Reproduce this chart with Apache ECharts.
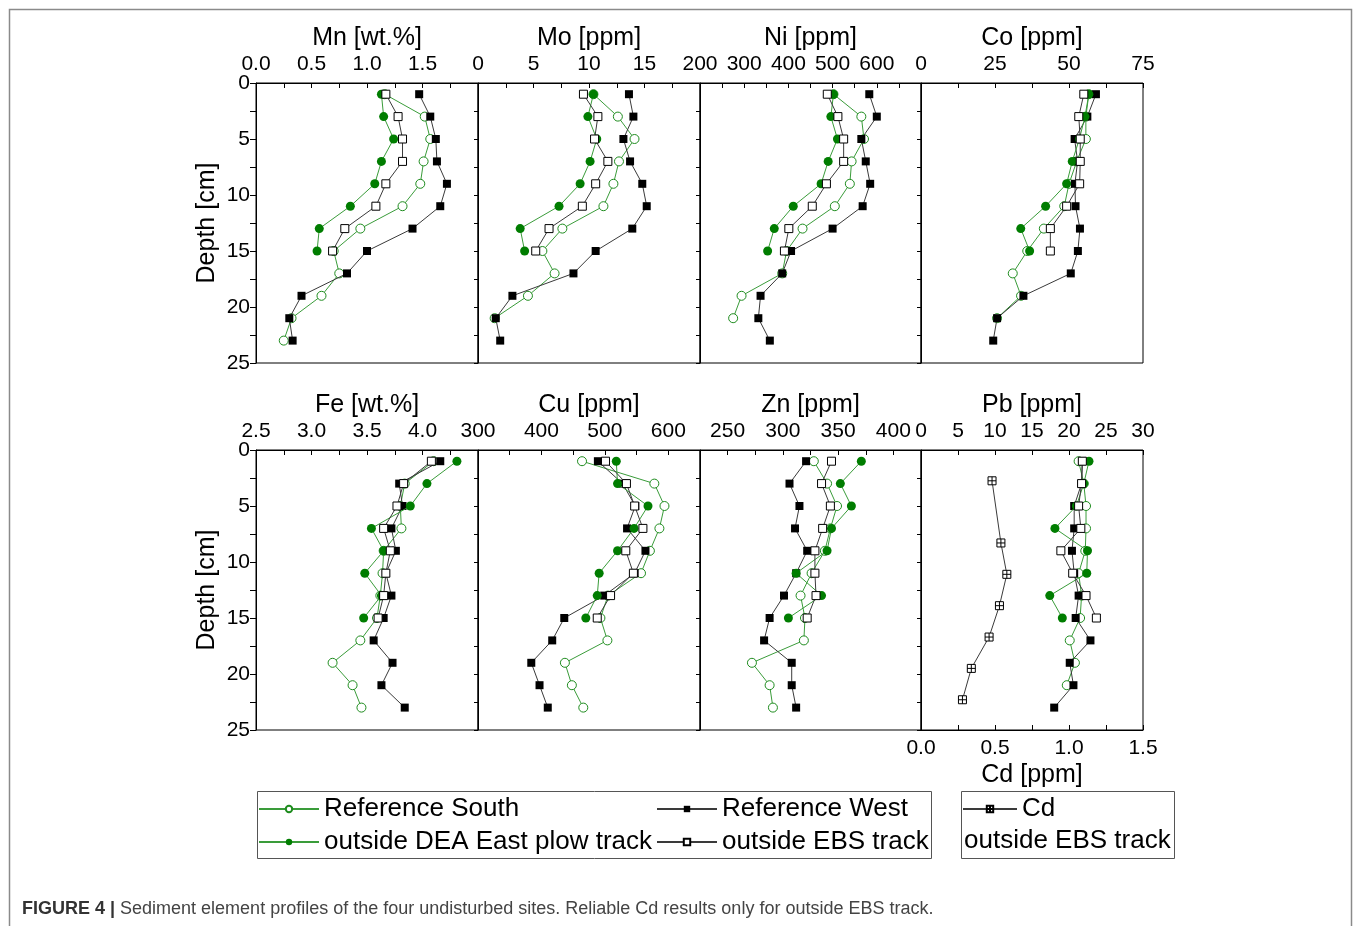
<!DOCTYPE html>
<html><head><meta charset="utf-8">
<script src="https://cdn.jsdelivr.net/npm/echarts@6/dist/echarts.min.js"></script>
<style>html,body{margin:0;padding:0;background:#fff}#c{width:1358px;height:926px}</style>
</head><body><div id="c"></div>
<script>
// ---- data ----
const depths = [1, 3, 5, 7, 9, 11, 13, 15, 17, 19, 21, 23];
const cdDepths = [2.75, 8.3, 11.1, 13.9, 16.7, 19.5, 22.3];

const mnRefSouth = [1.16, 1.52, 1.57, 1.51, 1.48, 1.32, 0.94, 0.70, 0.75, 0.59, 0.32, 0.25];
const mnRefWest  = [1.47, 1.57, 1.62, 1.63, 1.72, 1.66, 1.41, 1.00, 0.82, 0.41, 0.30, 0.33];
const mnDeaEast  = [1.13, 1.15, 1.24, 1.13, 1.07, 0.85, 0.57, 0.55];
const mnEbs      = [1.17, 1.28, 1.32, 1.32, 1.17, 1.08, 0.80, 0.69];

const moRefSouth = [10.4, 12.6, 14.1, 12.7, 12.2, 11.3, 7.6, 5.8, 6.9, 4.5, 1.5];
const moRefWest  = [13.6, 14.0, 13.1, 13.7, 14.8, 15.2, 13.9, 10.6, 8.6, 3.1, 1.6, 2.0];
const moDeaEast  = [10.4, 9.9, 10.7, 10.1, 9.2, 7.3, 3.8, 4.2];
const moEbs      = [9.5, 10.8, 10.5, 11.7, 10.6, 9.4, 6.4, 5.2];

const niRefSouth = [502, 565, 571, 543, 539, 505, 432, 396, 386, 294, 275];
const niRefWest  = [583, 600, 565, 575, 585, 568, 500, 406, 386, 337, 332, 358];
const niDeaEast  = [502, 496, 511, 490, 474, 411, 368, 353];
const niEbs      = [488, 512, 525, 525, 486, 454, 401, 391];

const coRefSouth = [56.7, 55.7, 55.7, 52.6, 50.0, 48.4, 41.5, 35.9, 31.0, 33.8, 25.7];
const coRefWest  = [59.1, 56.2, 51.9, 52.9, 52.0, 52.2, 53.7, 53.0, 50.6, 34.6, 25.7, 24.4];
const coDeaEast  = [56.7, 55.4, 53.5, 51.1, 49.2, 42.1, 33.7, 36.7];
const coEbs      = [55.0, 53.3, 53.8, 53.8, 53.6, 49.2, 43.7, 43.7];

const feRefSouth = [4.10, 3.84, 3.80, 3.81, 3.65, 3.64, 3.62, 3.59, 3.44, 3.19, 3.37, 3.45];
const feRefWest  = [4.16, 3.79, 3.82, 3.72, 3.76, 3.67, 3.72, 3.65, 3.56, 3.73, 3.63, 3.84];
const feDeaEast  = [4.31, 4.04, 3.89, 3.54, 3.65, 3.48, 3.63, 3.47];
const feEbs      = [4.08, 3.83, 3.77, 3.65, 3.71, 3.67, 3.65, 3.60];

const cuRefSouth = [464, 578, 594, 586, 571, 557, 505, 493, 504, 437, 448, 466];
const cuRefWest  = [489, 528, 548, 535, 564, 547, 499, 436, 417, 384, 397, 410];
const cuDeaEast  = [518, 520, 568, 546, 520, 491, 488, 470];
const cuEbs      = [501, 534, 547, 560, 533, 545, 509, 488];

const znRefSouth = [328, 340, 349, 343, 338, 326, 316, 320, 319, 272, 288, 291];
const znRefWest  = [321, 306, 315, 311, 322, 312, 301, 288, 283, 308, 308, 312];
const znDeaEast  = [371, 352, 362, 344, 340, 312, 335, 305];
const znEbs      = [344, 335, 343, 336, 329, 329, 330, 322];

const pbRefSouth = [21.3, 22.0, 22.3, 22.3, 22.2, 21.3, 21.7, 21.5, 20.1, 20.8, 19.7];
const pbRefWest  = [21.8, 21.7, 20.7, 20.7, 20.4, 20.7, 21.3, 20.9, 22.9, 20.1, 20.6, 18.0];
const pbDeaEast  = [22.7, 22.0, 21.0, 18.1, 22.5, 22.4, 17.4, 19.1];
const pbEbs      = [21.8, 21.7, 21.3, 21.6, 18.9, 20.5, 22.3, 23.7];

const cdEbs = [0.48, 0.54, 0.58, 0.53, 0.46, 0.34, 0.28];

const panelTitles = ['Mn [wt.%]', 'Mo [ppm]', 'Ni [ppm]', 'Co [ppm]', 'Fe [wt.%]', 'Cu [ppm]', 'Zn [ppm]', 'Pb [ppm]'];
const seriesNames = ['Reference South', 'Reference West', 'outside DEA East plow track', 'outside EBS track'];
const depthTicks = [0, 5, 10, 15, 20, 25];

// ---- layout / styles ----
const FONT = 'Liberation Sans, Arial, sans-serif';
const colLeft = [256, 478, 700, 921];
const colWidth = [222, 222, 221, 222];
const rowTop = [83, 450];
const rowH = 280;
const GREEN = '#007d00';
const GREEN_LINE = '#3a9c3a';
const DARK_LINE = '#3a3a3a';

const panelData = [
  [mnRefSouth, mnRefWest, mnDeaEast, mnEbs],
  [moRefSouth, moRefWest, moDeaEast, moEbs],
  [niRefSouth, niRefWest, niDeaEast, niEbs],
  [coRefSouth, coRefWest, coDeaEast, coEbs],
  [feRefSouth, feRefWest, feDeaEast, feEbs],
  [cuRefSouth, cuRefWest, cuDeaEast, cuEbs],
  [znRefSouth, znRefWest, znDeaEast, znEbs],
  [pbRefSouth, pbRefWest, pbDeaEast, pbEbs]
];

// axis scale settings per panel
const axisCfg = [
  {min: 0, max: 2, interval: 0.5, minor: true, dec: 1, hide: v => v === 2},
  {min: 0, max: 20, interval: 5, minor: true, dec: 0, hide: v => v === 20},
  {min: 200, max: 700, interval: 100, minor: true, dec: 0, hide: v => v === 700},
  {min: 0, max: 75, interval: 25, minor: true, dec: 0, hide: v => false},
  {min: 2.5, max: 4.5, interval: 0.5, minor: true, dec: 1, hide: v => v === 4.5},
  {min: 300, max: 650, interval: 50, minor: false, dec: 0, hide: v => v % 100 !== 0},
  {min: 225, max: 425, interval: 25, minor: false, dec: 0, hide: v => v % 50 !== 0},
  {min: 0, max: 30, interval: 5, minor: false, dec: 0, hide: v => false}
];

const styles = [
  {symbol: 'circle', symbolSize: 9, item: {color: '#fff', borderColor: '#1e8c1e', borderWidth: 1}, line: GREEN_LINE},
  {symbol: 'rect', symbolSize: 8, item: {color: '#000', borderColor: '#000', borderWidth: 0}, line: DARK_LINE},
  {symbol: 'circle', symbolSize: 9, item: {color: GREEN, borderColor: GREEN, borderWidth: 0}, line: GREEN_LINE},
  {symbol: 'rect', symbolSize: 8, item: {color: '#fff', borderColor: '#000', borderWidth: 1}, line: DARK_LINE}
];

const grids = [], xAxes = [], yAxes = [], series = [];

for (let p = 0; p < 8; p++) {
  const r = Math.floor(p / 4), c = p % 4;
  grids.push({left: colLeft[c], top: rowTop[r], width: colWidth[c], height: rowH,
    show: true, borderColor: '#000', borderWidth: 1, backgroundColor: 'transparent'});
  const cfg = axisCfg[p];
  xAxes.push({
    type: 'value', gridIndex: p, position: 'top',
    min: cfg.min, max: cfg.max, interval: cfg.interval,
    name: panelTitles[p], nameLocation: 'middle', nameGap: 32,
    nameTextStyle: {fontFamily: FONT, fontSize: 25, color: '#000'},
    axisLine: {show: true, onZero: false, lineStyle: {color: '#000', width: 1}},
    axisTick: {show: true, inside: true, length: 5, lineStyle: {color: '#000'}},
    minorTick: {show: cfg.minor, splitNumber: 2, length: 5, lineStyle: {color: '#000'}},
    splitLine: {show: false},
    axisLabel: {show: true, margin: 8, fontFamily: FONT, fontSize: 21, color: '#000',
      hideOverlap: false, showMinLabel: true, showMaxLabel: true,
      formatter: (v) => cfg.hide(Math.round(v * 1000) / 1000) ? '' : Number(v).toFixed(cfg.dec)}
  });
  const first = c === 0;
  yAxes.push({
    type: 'value', gridIndex: p, inverse: true, min: 0, max: 25, interval: 2.5,
    name: first ? 'Depth [cm]' : '', nameLocation: 'middle', nameGap: 36,
    nameTextStyle: {fontFamily: FONT, fontSize: 25, color: '#000'},
    axisLine: {show: true, onZero: false, lineStyle: {color: '#000', width: 1}},
    axisTick: {show: true, inside: false, length: first ? 6 : 4, lineStyle: {color: '#000'}},
    splitLine: {show: false},
    axisLabel: {show: first, margin: 6, fontFamily: FONT, fontSize: 21, color: '#000',
      formatter: v => depthTicks.indexOf(v) >= 0 ? String(v) : ''}
  });
  panelData[p].forEach((vals, si) => {
    const st = styles[si];
    series.push({
      name: seriesNames[si], type: 'line', xAxisIndex: p, yAxisIndex: p,
      data: vals.map((v, i) => [v, depths[i]]),
      symbol: st.symbol, symbolSize: st.symbolSize, showAllSymbol: true,
      itemStyle: st.item, lineStyle: {color: st.line, width: 1},
      emphasis: {disabled: true}, animation: false, z: 2 + si
    });
  });
}

// Cd secondary axis on the Pb panel (bottom)
xAxes.push({
  type: 'value', gridIndex: 7, position: 'bottom', min: 0, max: 1.5, interval: 0.5,
  name: 'Cd [ppm]', nameLocation: 'middle', nameGap: 33,
  nameTextStyle: {fontFamily: FONT, fontSize: 25, color: '#000'},
  axisLine: {show: true, onZero: false, lineStyle: {color: '#000', width: 1}},
  axisTick: {show: true, inside: true, length: 5, lineStyle: {color: '#000'}},
  minorTick: {show: true, splitNumber: 2, length: 5, lineStyle: {color: '#000'}},
  splitLine: {show: false},
  axisLabel: {show: true, margin: 8, fontFamily: FONT, fontSize: 21, color: '#000',
    formatter: v => Number(v).toFixed(1)}
});
series.push({
  name: 'Cd', type: 'line', xAxisIndex: 8, yAxisIndex: 7,
  data: cdEbs.map((v, i) => [v, cdDepths[i]]),
  symbol: 'path://M0,0L10,0L10,10L0,10Z M5,0L5,10 M0,5L10,5', symbolSize: 8,
  itemStyle: {color: '#fff', borderColor: '#000', borderWidth: 1},
  lineStyle: {color: DARK_LINE, width: 1}, emphasis: {disabled: true}, animation: false, z: 6
});

const legendText = {fontFamily: FONT, fontSize: 26, color: '#000', lineHeight: 30};
function lg(name, left, top, w) {
  return {data: [name], left: left, top: top, orient: 'horizontal', padding: 0,
    itemWidth: w || 60, itemHeight: 8, itemGap: 6, textStyle: legendText,
    selectedMode: false};
}

const option = {
  animation: false,
  backgroundColor: '#fff',
  grid: grids, xAxis: xAxes, yAxis: yAxes, series: series,
  legend: [
    lg('Reference South', 258, 794),
    lg('outside DEA East plow track', 258, 827),
    lg('Reference West', 656, 794),
    lg('outside EBS track', 656, 827),
    lg('Cd', 962, 794, 54)
  ],
  graphic: [
    {type: 'rect', left: 7, top: 7, shape: {width: 1342, height: 1000},
      style: {fill: 'none', stroke: '#8a8a8a', lineWidth: 1.5}, silent: true, z: -1},
    {type: 'rect', left: 255, top: 789, shape: {width: 674, height: 67},
      style: {fill: 'none', stroke: '#555', lineWidth: 1}, silent: true},
    {type: 'rect', left: 959, top: 789, shape: {width: 213, height: 67},
      style: {fill: 'none', stroke: '#555', lineWidth: 1}, silent: true},
    {type: 'text', left: 964, top: 828,
      style: {text: 'outside EBS track', font: '26px ' + FONT, fill: '#000'}, silent: true},
    {type: 'text', left: 22, top: 900,
      style: {text: '{b|FIGURE 4 |} Sediment element profiles of the four undisturbed sites. Reliable Cd results only for outside EBS track.',
        rich: {b: {fontWeight: 'bold', fontFamily: 'Liberation Sans Narrow, Liberation Sans, Arial', fontSize: 18, fill: '#333'}},
        fontFamily: 'Liberation Sans Narrow, Liberation Sans, Arial', fontSize: 18, fill: '#444'}, silent: true}
  ]
};

const chart = echarts.init(document.getElementById('c'), null, {renderer: 'canvas'});
chart.setOption(option);
</script>
</body></html>
